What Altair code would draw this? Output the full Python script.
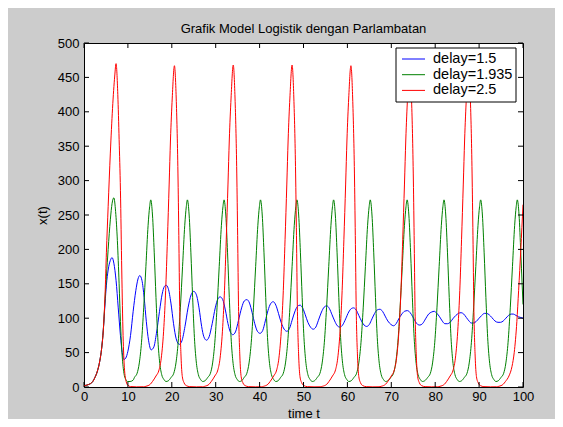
import altair as alt
import pandas as pd

series_names = ["delay=1.5", "delay=1.935", "delay=2.5"]
series_colors = ["#0000ff", "#008000", "#ff0000"]
x_ticks = [0, 10, 20, 30, 40, 50, 60, 70, 80, 90, 100]
y_ticks = [0, 50, 100, 150, 200, 250, 300, 350, 400, 450, 500]

blue_points = [(0, 2), (1.0, 3.5), (2.0, 8), (2.5, 14), (3.0, 22), (3.6, 38), (4.0, 55), (4.4, 83),
    (4.8, 122), (5.1, 148), (5.5, 170), (6.0, 184), (6.4, 188), (6.8, 180), (7.3, 155), (7.8, 115),
    (8.3, 75), (8.7, 50), (9.1, 40), (9.5, 42), (10.0, 52), (10.6, 75), (11.2, 110), (11.8, 140),
    (12.3, 157), (12.7, 162), (13.2, 155), (13.7, 130), (14.2, 95), (14.7, 68), (15.3, 54), (15.9, 58),
    (16.5, 78), (17.2, 110), (17.8, 135), (18.3, 146), (18.7, 148), (19.2, 143), (19.8, 122), (20.4, 92),
    (21.0, 70), (21.7, 62), (22.3, 67), (23.0, 88), (23.7, 115), (24.4, 134), (25.0, 139), (25.6, 134),
    (26.2, 115), (26.8, 88), (27.3, 73), (27.9, 68), (28.5, 73), (29.2, 92), (29.9, 115), (30.5, 128),
    (31.0, 131), (31.6, 127), (32.2, 112), (32.8, 92), (33.4, 79), (33.9, 76), (34.5, 80), (35.2, 97),
    (35.9, 115), (36.5, 125), (37.1, 127), (37.7, 122), (38.3, 108), (38.9, 92), (39.5, 81), (40.1, 78),
    (40.7, 82), (41.3, 96), (41.9, 111), (42.5, 121), (43.1, 124), (43.7, 119), (44.3, 107), (44.9, 94),
    (45.6, 84), (46.2, 81), (46.8, 85), (47.4, 97), (48.0, 109), (48.6, 117), (49.2, 119), (49.8, 115),
    (50.4, 105), (51.0, 94), (51.6, 87), (52.2, 84), (52.8, 87), (53.4, 97), (54.1, 109), (54.7, 116),
    (55.3, 118), (55.9, 114), (56.5, 105), (57.1, 96), (57.7, 89), (58.3, 87), (58.9, 90), (59.6, 99),
    (60.3, 109), (60.9, 114), (61.4, 115), (62.0, 112), (62.6, 104), (63.2, 96), (63.8, 90), (64.4, 88),
    (65.0, 91), (65.6, 99), (66.2, 107), (66.8, 112), (67.4, 113), (68.0, 110), (68.6, 103), (69.2, 96),
    (69.9, 91), (70.5, 89), (71.1, 92), (71.7, 99), (72.4, 106), (73.0, 110), (73.7, 111), (74.3, 108),
    (74.9, 102), (75.5, 95), (76.0, 91), (76.5, 90), (77.1, 92), (77.8, 99), (78.5, 106), (79.2, 109),
    (79.8, 110), (80.4, 107), (81.0, 102), (81.6, 96), (82.2, 92), (82.8, 92), (83.4, 94), (84.0, 99),
    (84.7, 104), (85.3, 107), (85.9, 108), (86.5, 106), (87.1, 101), (87.7, 96), (88.2, 93), (88.7, 93),
    (89.3, 95), (90.0, 100), (90.6, 104), (91.2, 107), (91.7, 107), (92.3, 105), (92.9, 101), (93.6, 96),
    (94.3, 94), (94.9, 94), (95.5, 96), (96.1, 100), (96.7, 104), (97.3, 106), (97.8, 106), (98.4, 104),
    (99.0, 102), (99.5, 101), (100, 100)]

green_points = [(0, 2), (1.0, 3.5), (2.0, 8), (2.5, 14), (3.0, 22), (3.6, 38), (4.0, 55), (4.4, 83),
    (4.8, 128), (5.1, 160), (5.5, 200), (6.0, 243), (6.4, 267), (6.8, 275), (7.2, 255), (7.6, 213),
    (8.0, 150), (8.3, 95), (8.7, 45), (9.1, 20), (9.5, 11), (9.9, 8), (10.5, 8),
    (11.2, 10), (11.5, 14), (12.1, 20), (12.6, 35), (13.1, 65), (13.6, 115), (14.1, 175), (14.6, 235),
    (14.95, 262), (15.2, 272), (15.6, 250), (16.0, 195), (16.4, 130), (16.8, 72), (17.2, 38), (17.7, 18),
    (18.2, 11), (18.7, 8), (19.2, 9),
    (19.85, 14), (20.45, 20), (20.95, 35), (21.45, 65), (21.95, 115), (22.45, 175), (22.95, 235),
    (23.3, 262), (23.55, 272), (23.95, 250), (24.35, 195), (24.75, 130), (25.15, 72), (25.55, 38),
    (26.05, 18), (26.55, 11), (27.05, 8), (27.55, 9),
    (28.2, 14), (28.8, 20), (29.3, 35), (29.8, 65), (30.3, 115), (30.8, 175), (31.3, 235), (31.65, 262),
    (31.9, 272), (32.3, 250), (32.7, 195), (33.1, 130), (33.5, 72), (33.9, 38), (34.4, 18), (34.9, 11),
    (35.4, 8), (35.9, 9),
    (36.5, 14), (37.1, 20), (37.6, 35), (38.1, 65), (38.6, 115), (39.1, 175), (39.6, 235), (39.95, 262),
    (40.2, 272), (40.6, 250), (41.0, 195), (41.4, 130), (41.8, 72), (42.2, 38), (42.7, 18), (43.2, 11),
    (43.7, 8), (44.2, 9),
    (44.8, 14), (45.4, 20), (45.9, 35), (46.4, 65), (46.9, 115), (47.4, 175), (47.9, 235), (48.25, 262),
    (48.5, 272), (48.9, 250), (49.3, 195), (49.7, 130), (50.1, 72), (50.5, 38), (51.0, 18), (51.5, 11),
    (52.0, 8), (52.5, 9),
    (53.15, 14), (53.75, 20), (54.25, 35), (54.75, 65), (55.25, 115), (55.75, 175), (56.25, 235),
    (56.6, 262), (56.85, 272), (57.25, 250), (57.65, 195), (58.05, 130), (58.45, 72), (58.85, 38),
    (59.35, 18), (59.85, 11), (60.35, 8), (60.85, 9),
    (61.5, 14), (62.1, 20), (62.6, 35), (63.1, 65), (63.6, 115), (64.1, 175), (64.6, 235), (64.95, 262),
    (65.2, 272), (65.6, 250), (66.0, 195), (66.4, 130), (66.8, 72), (67.2, 38), (67.7, 18), (68.2, 11),
    (68.7, 8), (69.2, 9),
    (69.9, 14), (70.5, 20), (71.0, 35), (71.5, 65), (72.0, 115), (72.5, 175), (73.0, 235), (73.35, 262),
    (73.6, 272), (74.0, 250), (74.4, 195), (74.8, 130), (75.2, 72), (75.6, 38), (76.1, 18), (76.6, 11),
    (77.1, 8), (77.6, 9),
    (78.3, 14), (78.9, 20), (79.4, 35), (79.9, 65), (80.4, 115), (80.9, 175), (81.4, 235), (81.75, 262),
    (82.0, 272), (82.4, 250), (82.8, 195), (83.2, 130), (83.6, 72), (84.0, 38), (84.5, 18), (85.0, 11),
    (85.5, 8), (86.0, 9),
    (86.65, 14), (87.25, 20), (87.75, 35), (88.25, 65), (88.75, 115), (89.25, 175), (89.75, 235),
    (90.1, 262), (90.35, 272), (90.75, 250), (91.15, 195), (91.55, 130), (91.95, 72), (92.35, 38),
    (92.85, 18), (93.35, 11), (93.85, 8), (94.35, 9),
    (95.0, 14), (95.6, 20), (96.1, 35), (96.6, 65), (97.1, 115), (97.6, 175), (98.1, 235), (98.45, 262),
    (98.7, 272), (99.1, 250), (99.5, 195), (99.8, 150), (100, 120)]

red_points = [(0, 2), (1.0, 3.5), (2.0, 8), (2.5, 14), (3.0, 22), (3.6, 38), (4.0, 55), (4.4, 83),
    (4.8, 135), (5.1, 195), (5.5, 262), (6.0, 340), (6.5, 405), (7.0, 452), (7.3, 470), (7.7, 425),
    (8.0, 360), (8.3, 286), (8.6, 170), (8.9, 75), (9.2, 28), (9.6, 8), (10.0, 2.5), (10.6, 0.6), (12.0, 0.2),
    (13.6, 0.3), (14.1, 1), (15.1, 4), (15.6, 8), (16.4, 16), (17.1, 25), (17.6, 42), (18.2, 88),
    (18.6, 140), (19.0, 214), (19.4, 295), (19.7, 359), (20.1, 420), (20.6, 467), (21.0, 420), (21.4, 311),
    (21.6, 220), (21.8, 117), (22.1, 45), (22.4, 15), (22.8, 6), (23.3, 2), (24.1, 0.5), (25.6, 0.2),
    (27.0, 0.3), (27.5, 1), (28.5, 4), (29.0, 8), (29.8, 16), (30.5, 25), (31.0, 42), (31.6, 88),
    (32.0, 140), (32.4, 214), (32.8, 295), (33.1, 359), (33.5, 420), (34.0, 468), (34.4, 420), (34.8, 311),
    (35.0, 220), (35.2, 117), (35.5, 45), (35.8, 15), (36.2, 6), (36.7, 2), (37.5, 0.5), (39.0, 0.2),
    (40.4, 0.3), (40.9, 1), (41.9, 4), (42.4, 8), (43.2, 16), (43.9, 25), (44.4, 42), (45.0, 88),
    (45.4, 140), (45.8, 214), (46.2, 295), (46.5, 359), (46.9, 420), (47.4, 468), (47.8, 420), (48.2, 311),
    (48.4, 220), (48.6, 117), (48.9, 45), (49.2, 15), (49.6, 6), (50.1, 2), (50.9, 0.5), (52.4, 0.2),
    (53.8, 0.3), (54.3, 1), (55.3, 4), (55.8, 8), (56.6, 16), (57.3, 25), (57.8, 42), (58.4, 88),
    (58.8, 140), (59.2, 214), (59.6, 295), (59.9, 359), (60.3, 420), (60.8, 467), (61.2, 420), (61.6, 311),
    (61.8, 220), (62.0, 117), (62.3, 45), (62.6, 15), (63.0, 6), (63.5, 2), (64.3, 0.5), (65.8, 0.2),
    (67.2, 0.3), (67.7, 1), (68.7, 4), (69.2, 8), (70.0, 16), (70.7, 25), (71.2, 42), (71.8, 88),
    (72.2, 140), (72.6, 214), (73.0, 295), (73.3, 359), (73.7, 420), (74.2, 467), (74.6, 420), (75.0, 311),
    (75.2, 220), (75.4, 117), (75.7, 45), (76.0, 15), (76.4, 6), (76.9, 2), (77.7, 0.5), (79.2, 0.2),
    (80.6, 0.3), (81.1, 1), (82.1, 4), (82.6, 8), (83.4, 16), (84.1, 25), (84.6, 42), (85.2, 88),
    (85.6, 140), (86.0, 214), (86.4, 295), (86.7, 359), (87.1, 420), (87.6, 467), (88.0, 420), (88.4, 311),
    (88.6, 220), (88.8, 117), (89.1, 45), (89.4, 15), (89.8, 6), (90.3, 2), (91.1, 0.5), (92.6, 0.2),
    (94.0, 0.3), (94.5, 1), (95.5, 4), (96.0, 8), (96.8, 16), (97.5, 30), (98.0, 50), (98.6, 95),
    (99.0, 140), (99.5, 200), (100, 265)]

FONT = "Liberation Sans"
W, H = 439, 344

rows = []
for name, pts in zip(series_names, [blue_points, green_points, red_points]):
    for i, (t, v) in enumerate(pts):
        rows.append({"t": t, "x": v, "series": name, "i": i})
df = pd.DataFrame(rows)

xscale = alt.Scale(domain=[0, 100], nice=False, zero=False)
yscale = alt.Scale(domain=[0, 500], nice=False, zero=False)
cscale = alt.Scale(domain=series_names, range=series_colors)
x_axis = alt.Axis(values=x_ticks, title="time t", labelFlush=False, labelOverlap=False,
                  labelPadding=3, titlePadding=4)
y_axis = alt.Axis(values=y_ticks, title="x(t)", labelFlush=False, labelOverlap=False,
                  labelPadding=5, titlePadding=8)

lines = alt.Chart(df).mark_line(strokeWidth=1, interpolate="monotone", clip=True).encode(
    x=alt.X("t:Q", scale=xscale, axis=x_axis),
    y=alt.Y("x:Q", scale=yscale, axis=y_axis),
    color=alt.Color("series:N", scale=cscale, legend=None),
    order="i:Q",
)

xt = pd.DataFrame({"t": x_ticks})
yt = pd.DataFrame({"x": y_ticks})
tick_len = 5
bottom_ticks = alt.Chart(xt).mark_rule(color="black", strokeWidth=1).encode(
    x=alt.X("t:Q", scale=xscale, axis=x_axis), y=alt.value(H), y2=alt.value(H - tick_len))
top_ticks = alt.Chart(xt).mark_rule(color="black", strokeWidth=1).encode(
    x=alt.X("t:Q", scale=xscale, axis=x_axis), y=alt.value(0), y2=alt.value(tick_len))
left_ticks = alt.Chart(yt).mark_rule(color="black", strokeWidth=1).encode(
    y=alt.Y("x:Q", scale=yscale, axis=y_axis), x=alt.value(0), x2=alt.value(tick_len))
right_ticks = alt.Chart(yt).mark_rule(color="black", strokeWidth=1).encode(
    y=alt.Y("x:Q", scale=yscale, axis=y_axis), x=alt.value(W), x2=alt.value(W - tick_len))

# legend box (MATLAB style), drawn inside the plot area's top-right corner
leg_df = pd.DataFrame({"series": series_names, "row": list(range(len(series_names)))})
leg_box = alt.Chart(pd.DataFrame({"k": [0]})).mark_rect(
    fill="white", stroke="black", strokeWidth=1).encode(
    x=alt.value(312), x2=alt.value(432), y=alt.value(5), y2=alt.value(59))
leg_base = alt.Chart(leg_df).transform_calculate(ly="16 + datum.row * 15.7")
leg_lines = leg_base.mark_rule(strokeWidth=1).encode(
    x=alt.value(318), x2=alt.value(341),
    y=alt.Y("ly:Q", scale=None, axis=None),
    color=alt.Color("series:N", scale=cscale, legend=None))
leg_text = leg_base.mark_text(align="left", baseline="middle", font=FONT, fontSize=14.5,
                              color="black").encode(
    x=alt.value(349), y=alt.Y("ly:Q", scale=None, axis=None), text="series:N")

chart = alt.layer(lines, bottom_ticks, top_ticks, left_ticks, right_ticks,
                  leg_box, leg_lines, leg_text).properties(
    width=W, height=H,
    title=alt.TitleParams("Grafik Model Logistik dengan Parlambatan", font=FONT, fontSize=13,
                          fontWeight="normal", color="black", anchor="middle", offset=1),
    padding={"left": 76, "top": 35, "right": 32, "bottom": 32},
    autosize=alt.AutoSizeParams(type="none"),
    background="#cccccc",
).configure_view(stroke="black", strokeWidth=1, fill="white").configure_axis(
    labelFont=FONT, labelFontSize=13, labelColor="black", titleFont=FONT, titleFontSize=13,
    titleFontWeight="normal", titleColor="black", ticks=False, tickSize=0, domain=False, grid=False,
)

chart.save("out.html", embed_options={"renderer": "svg", "actions": False})
